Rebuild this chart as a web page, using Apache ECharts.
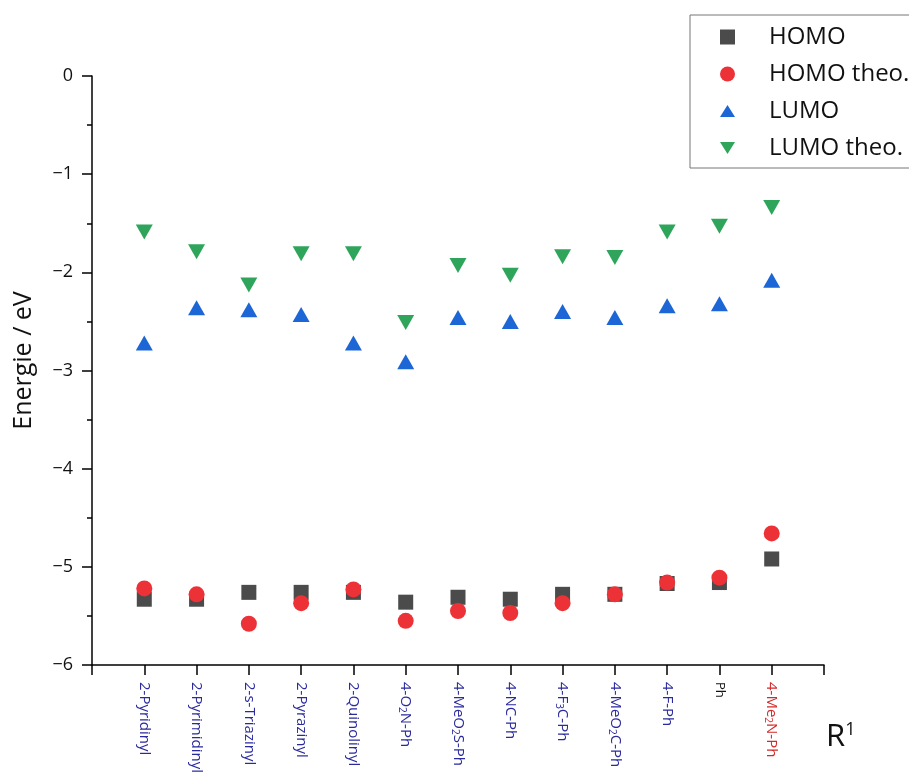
<!DOCTYPE html>
<html>
<head>
<meta charset="utf-8">
<script src="https://cdn.jsdelivr.net/npm/echarts@6/dist/echarts.min.js"></script>
<style>
html,body{margin:0;padding:0;background:#fff;}
#chart{width:909px;height:777px;}
</style>
</head>
<body>
<div id="chart"></div>
<script>
// Categories (R1 substituents); rich-text markup for subscripts
const categories = ["2-Pyridinyl","2-Pyrimidinyl","2-s-Triazinyl","2-Pyrazinyl","2-Quinolinyl","4-O2N-Ph","4-MeO2S-Ph","4-NC-Ph","4-F3C-Ph","4-MeO2C-Ph","4-F-Ph","Ph","4-Me2N-Ph"];
const categoryLabels = [
  "{b|2-Pyridinyl}",
  "{b|2-Pyrimidinyl}",
  "{b|2-s-Triazinyl}",
  "{b|2-Pyrazinyl}",
  "{b|2-Quinolinyl}",
  "{b|4-O}{bs|2}{b|N-Ph}",
  "{b|4-MeO}{bs|2}{b|S-Ph}",
  "{b|4-NC-Ph}",
  "{b|4-F}{bs|3}{b|C-Ph}",
  "{b|4-MeO}{bs|2}{b|C-Ph}",
  "{b|4-F-Ph}",
  "{k|Ph}",
  "{r|4-Me}{rs|2}{r|N-Ph}"
];
const seriesNames = ['HOMO','HOMO theo.','LUMO','LUMO theo.'];
const homo     = [-5.33,-5.33,-5.26,-5.26,-5.26,-5.36,-5.31,-5.33,-5.28,-5.28,-5.17,-5.16,-4.92];
const homoTheo = [-5.22,-5.28,-5.58,-5.37,-5.23,-5.55,-5.45,-5.47,-5.37,-5.28,-5.16,-5.11,-4.66];
const lumo     = [-2.72,-2.36,-2.38,-2.43,-2.72,-2.91,-2.46,-2.50,-2.40,-2.46,-2.34,-2.32,-2.08];
const lumoTheo = [-1.59,-1.79,-2.13,-1.81,-1.81,-2.51,-1.93,-2.03,-1.84,-1.85,-1.59,-1.53,-1.34];
const yTicks = [0,-1,-2,-3,-4,-5,-6];

const FONT = "Open Sans";
const toPts = arr => arr.map((v,i)=>[i+1, v]);
const DOWN_TRI = 'path://M0,0L16,0L8,13Z';
const UP_TRI = 'path://M8,0L16,13L0,13Z';

const chart = echarts.init(document.getElementById('chart'));
chart.setOption({
  animation:false,
  backgroundColor:'#fff',
  textStyle:{fontFamily:FONT},
  grid:{left:92,right:85,top:76,bottom:112,containLabel:false},
  xAxis:{
    type:'value', min:0, max:14, interval:1,
    axisLine:{onZero:false,lineStyle:{color:'#000',width:1.5}},
    axisTick:{show:true,inside:false,length:10,lineStyle:{color:'#000',width:1.5}},
    splitLine:{show:false},
    axisLabel:{
      rotate:-90, margin:17,
      formatter:v=>{const i=Math.round(v)-1; return (i>=0&&i<categories.length)?categoryLabels[i]:'';},
      rich:{
        b:{color:'#2a2a9e',fontSize:15,fontFamily:FONT},
        bs:{color:'#2a2a9e',fontSize:10,fontFamily:FONT,verticalAlign:'bottom',padding:[7,0,0,0]},
        k:{color:'#111',fontSize:13,fontFamily:FONT},
        r:{color:'#d42a2a',fontSize:15,fontFamily:FONT},
        rs:{color:'#d42a2a',fontSize:10,fontFamily:FONT,verticalAlign:'bottom',padding:[7,0,0,0]}
      }
    }
  },
  yAxis:{
    type:'value', min:-6, max:0, interval:1,
    name:'Energie / eV', nameLocation:'middle', nameGap:56,
    nameTextStyle:{fontSize:25,color:'#111',fontFamily:FONT,padding:[0,0,0,20]},
    axisLine:{show:true,lineStyle:{color:'#000',width:1.5}},
    axisTick:{show:true,inside:false,length:10,lineStyle:{color:'#000',width:1.5}},
    minorTick:{show:true,splitNumber:2,length:5,lineStyle:{color:'#000',width:1.5}},
    splitLine:{show:false},
    axisLabel:{fontSize:18,color:'#111',margin:19,fontFamily:FONT,
      formatter:v=>yTicks.includes(v)?String(v).replace('-','\u2212'):''}
  },
  legend:{
    orient:'vertical', left:690, top:15,
    padding:[8,60,6,30],
    itemWidth:15, itemHeight:15, itemGap:9,
    borderColor:'#777', borderWidth:1,
    textStyle:{fontSize:24,color:'#111',fontFamily:FONT,lineHeight:28,padding:[0,0,0,29]},
    data:[
      {name:seriesNames[0], icon:'rect'},
      {name:seriesNames[1], icon:'circle'},
      {name:seriesNames[2], icon:UP_TRI},
      {name:seriesNames[3], icon:DOWN_TRI}
    ]
  },
  graphic:[{
    type:'text', left:826, top:721,
    style:{
      text:'{a|R}{s|1}',
      rich:{a:{fontSize:31,fontFamily:FONT,fill:'#111'},
            s:{fontSize:18,fontFamily:FONT,fill:'#111',verticalAlign:'top',padding:[0,0,14,0]}}
    }
  }],
  series:[
    {name:seriesNames[0],type:'scatter',symbol:'rect',symbolSize:15,itemStyle:{color:'#4b4b4b',opacity:1},data:toPts(homo)},
    {name:seriesNames[1],type:'scatter',symbol:'circle',symbolSize:16,itemStyle:{color:'#ec3237',opacity:1},data:toPts(homoTheo)},
    {name:seriesNames[2],type:'scatter',symbol:'triangle',symbolSize:[17,15],itemStyle:{color:'#1c66d6',opacity:1},data:toPts(lumo)},
    {name:seriesNames[3],type:'scatter',symbol:'triangle',symbolRotate:180,symbolSize:[17,15],itemStyle:{color:'#2fa55c',opacity:1},data:toPts(lumoTheo)}
  ]
});
</script>
</body>
</html>
